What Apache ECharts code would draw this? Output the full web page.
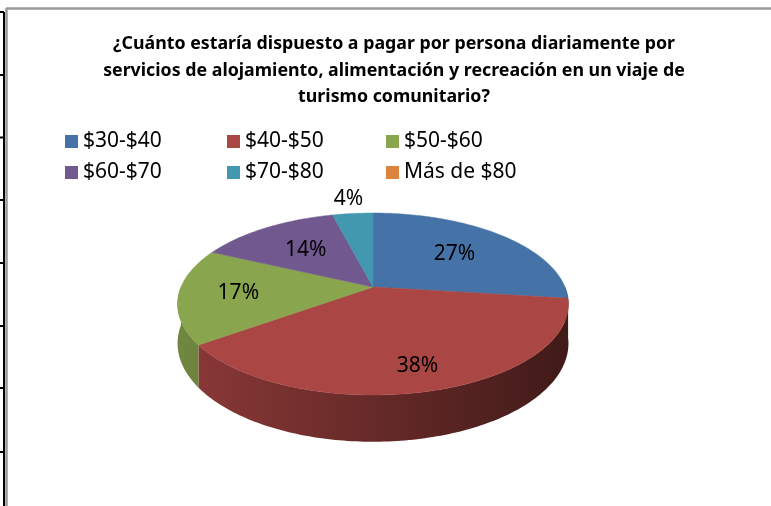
<!DOCTYPE html>
<html>
<head>
<meta charset="utf-8">
<title>Turismo comunitario</title>
<script src="https://cdn.jsdelivr.net/npm/echarts@6/dist/echarts.min.js"></script>
<style>
  html, body { margin: 0; padding: 0; background: #fff; }
  #chart { width: 771px; height: 506px; }
</style>
</head>
<body>
<div id="chart"></div>
<script>
// datos
var categories = ['$30-$40', '$40-$50', '$50-$60', '$60-$70', '$70-$80', 'Más de $80'];
var values = [27, 38, 17, 14, 4, 0];
var colors = ['#4572A7', '#AA4643', '#89A54E', '#71588F', '#4198AF', '#DB843D'];

var titleText = '¿Cuánto estaría dispuesto a pagar por persona diariamente por\n' +
  'servicios de alojamiento, alimentación y recreación en un viaje de\n' +
  'turismo comunitario?';

var FONT = '"Noto Sans", "Open Sans", sans-serif';

// geometria del pastel 3D (perspectiva simple)
var cx = 373, cy = 287, R = 192, K = 87.8, P = 0.187, H = 38;

var total = values.reduce(function (a, b) { return a + b; }, 0);

function proj(theta, f) {
  var c = Math.cos(theta), s = 1 / (1 + P * f * c);
  return [cx + R * f * Math.sin(theta) * s, cy - K * f * c * s, s];
}

function shade(hex, k) {
  var n = parseInt(hex.slice(1), 16);
  var r = Math.round(((n >> 16) & 255) * k);
  var g = Math.round(((n >> 8) & 255) * k);
  var b = Math.round((n & 255) * k);
  return 'rgb(' + r + ',' + g + ',' + b + ')';
}

function renderSlice(params, api) {
  var i = params.seriesIndex;
  var v = api.value(0);
  if (!v) return { type: 'group', children: [] };
  var before = 0;
  for (var j = 0; j < i; j++) before += values[j];
  var a0 = before / total * Math.PI * 2;
  var a1 = (before + v) / total * Math.PI * 2;
  var children = [];
  var step = Math.PI / 180;

  // cara superior
  var pts = [[cx, cy]];
  for (var t = a0; t < a1; t += step) pts.push(proj(t, 1).slice(0, 2));
  pts.push(proj(a1, 1).slice(0, 2));
  children.push({
    type: 'polygon', z2: 10,
    shape: { points: pts },
    style: { fill: colors[i], stroke: colors[i], lineWidth: 0.5 }
  });

  // pared frontal
  var s0 = Math.max(a0, Math.PI / 2), s1 = Math.min(a1, Math.PI * 1.5);
  if (s1 > s0) {
    var topPts = [], botPts = [];
    for (var t2 = s0; t2 < s1; t2 += step) {
      var p = proj(t2, 1);
      topPts.push([p[0], p[1]]);
      botPts.push([p[0], p[1] + H * p[2]]);
    }
    var pe = proj(s1, 1);
    topPts.push([pe[0], pe[1]]);
    botPts.push([pe[0], pe[1] + H * pe[2]]);
    var side = topPts.concat(botPts.reverse());
    children.push({
      type: 'polygon', z2: 1,
      shape: { points: side },
      style: {
        fill: new echarts.graphic.LinearGradient(cx - R, 0, cx + R, 0, [
          { offset: 0, color: shade(colors[i], 0.82) },
          { offset: 1, color: shade(colors[i], 0.38) }
        ], true),
        stroke: null
      }
    });
  }

  // etiqueta de porcentaje
  var mid = (a0 + a1) / 2;
  var pct = v / total;
  var f = pct < 0.05 ? 1.25 : 0.57 + 0.23 * (1 - Math.cos(mid)) / 2;
  var lp = proj(mid, f);
  children.push({
    type: 'text', z2: 20,
    x: lp[0], y: lp[1],
    style: {
      text: Math.round(pct * 100) + '%',
      fill: '#000', font: '21px ' + FONT,
      align: 'center', verticalAlign: 'middle'
    }
  });
  return { type: 'group', children: children };
}

var legendX = [65, 227, 386];
var legendY = [131, 162];

var chart = echarts.init(document.getElementById('chart'));

var option = {
  animation: false,
  backgroundColor: '#fff',
  title: {
    text: titleText,
    left: 394,
    top: 31,
    textAlign: 'center',
    padding: 0,
    textStyle: {
      fontFamily: FONT, fontSize: 17.8, fontWeight: 'bold',
      color: '#000', lineHeight: 26.5
    }
  },
  legend: categories.map(function (c, i) {
    return {
      data: [c],
      left: legendX[i % 3],
      top: legendY[Math.floor(i / 3)],
      padding: 0,
      icon: 'rect',
      itemWidth: 13,
      itemHeight: 13,
      selectedMode: false,
      textStyle: { fontFamily: FONT, fontSize: 21, color: '#000' }
    };
  }),
  graphic: [
    { type: 'line', shape: { x1: 4, y1: 12, x2: 4, y2: 506 }, style: { stroke: '#000', lineWidth: 2 } },
    { type: 'line', shape: { x1: 6.5, y1: 8, x2: 6.5, y2: 506 }, style: { stroke: '#9a9a9a', lineWidth: 2.5 } },
    { type: 'line', shape: { x1: 6, y1: 8.5, x2: 771, y2: 8.5 }, style: { stroke: '#9a9a9a', lineWidth: 2.5 } }
  ].concat([12, 75, 137.5, 200, 263, 326, 388, 452].map(function (y) {
    return { type: 'line', shape: { x1: 0, y1: y, x2: 4, y2: y }, style: { stroke: '#000', lineWidth: 2 } };
  })),
  series: categories.map(function (c, i) {
    return {
      name: c,
      type: 'custom',
      coordinateSystem: 'none',
      itemStyle: { color: colors[i] },
      data: [[values[i]]],
      renderItem: renderSlice
    };
  })
};

chart.setOption(option);
</script>
</body>
</html>
